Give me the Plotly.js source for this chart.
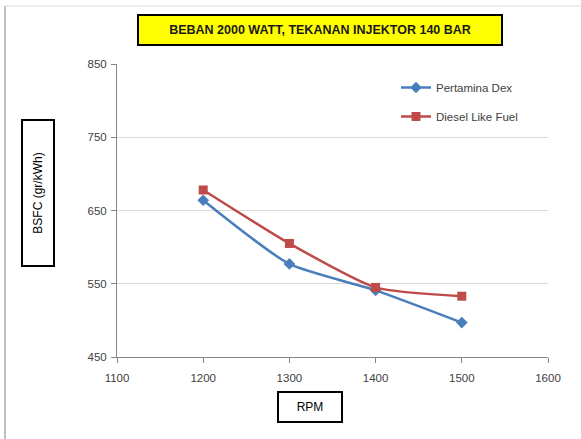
<!DOCTYPE html>
<html>
<head>
<meta charset="utf-8">
<script src="https://cdn.plot.ly/plotly-3.0.1.min.js"></script>
<style>html,body{margin:0;padding:0;background:#fff;}#chart{width:581px;height:439px;}</style>
</head>
<body>
<div id="chart"></div>
<script>
var rpm = [1200, 1300, 1400, 1500];
var pertaminaDex = [664, 577, 541, 497];
var dieselLikeFuel = [678, 605, 545, 533];
var seriesNames = ["Pertamina Dex", "Diesel Like Fuel"];
var xTicks = [1100, 1200, 1300, 1400, 1500, 1600];
var yTicks = [450, 550, 650, 750, 850];

var W = 581, H = 439, L = 117, R = 33, T = 64, B = 82;
var pw = W - L - R, ph = H - T - B;
function px(x){ return (x - L) / pw; }
function py(y){ return (H - B - y) / ph; }

var font = "Liberation Sans, Arial, sans-serif";

var traces = [
  {x: rpm, y: pertaminaDex, name: seriesNames[0], type: "scatter", mode: "lines+markers",
   line: {color: "#4a7ebb", width: 2.5, shape: "spline", smoothing: 0.6},
   marker: {symbol: "diamond", size: 9, color: "#4a7ebb"}, legendgroup: "a"},
  {x: rpm, y: dieselLikeFuel, name: seriesNames[1], type: "scatter", mode: "lines+markers",
   line: {color: "#be4b48", width: 2.5, shape: "spline", smoothing: 0.6},
   marker: {symbol: "square", size: 9, color: "#be4b48"}, legendgroup: "b"}
];

var layout = {
  width: W, height: H,
  margin: {l: L, r: R, t: T, b: B},
  paper_bgcolor: "#ffffff", plot_bgcolor: "#ffffff",
  font: {family: font, size: 11, color: "#404040"},
  showlegend: true,
  legend: {x: px(396), y: py(73), xanchor: "left", yanchor: "top",
           font: {family: font, size: 11.5, color: "#404040"},
           bgcolor: "rgba(0,0,0,0)", tracegroupgap: 10, traceorder: "grouped",
           itemwidth: 30},
  xaxis: {range: [1100, 1600], tickvals: xTicks, ticktext: xTicks.map(String),
          showgrid: false, zeroline: false, showline: true, linecolor: "#868686", linewidth: 1,
          ticks: "outside", ticklen: 5, tickcolor: "#868686", ticklabelstandoff: 5,
          tickfont: {family: font, size: 11.5, color: "#404040"}, fixedrange: true},
  yaxis: {range: [450, 850], tickvals: yTicks, ticktext: yTicks.map(String),
          showgrid: true, gridcolor: "#d9d9d9", gridwidth: 1, zeroline: false,
          showline: true, linecolor: "#868686", linewidth: 1,
          ticks: "outside", ticklen: 5, tickcolor: "#868686", ticklabelstandoff: 2,
          tickfont: {family: font, size: 11.5, color: "#404040"}, fixedrange: true},
  shapes: [
    {type: "line", xref: "paper", yref: "paper", x0: px(5), x1: px(5), y0: py(6), y1: py(439), line: {color: "#bfbfbf", width: 2}},
    {type: "line", xref: "paper", yref: "paper", x0: px(5), x1: px(581), y0: py(6), y1: py(6), line: {color: "#d9d9d9", width: 1}}
  ],
  annotations: [
    {text: "<b>BEBAN 2000 WATT, TEKANAN INJEKTOR 140 BAR</b>", xref: "paper", yref: "paper",
     x: px(320), y: py(30), xanchor: "center", yanchor: "middle", showarrow: false,
     font: {family: font, size: 12.5, color: "#1a1a1a"}, bgcolor: "#ffff00",
     bordercolor: "#000000", borderwidth: 2, width: 358, height: 24, borderpad: 2},
    {text: "BSFC (gr/kWh)", xref: "paper", yref: "paper",
     x: px(38), y: py(193), xanchor: "center", yanchor: "middle", showarrow: false, textangle: -90,
     font: {family: font, size: 12, color: "#000000"}, bgcolor: "#ffffff",
     bordercolor: "#000000", borderwidth: 2, width: 140, height: 26, borderpad: 2},
    {text: "RPM", xref: "paper", yref: "paper",
     x: px(310), y: py(407), xanchor: "center", yanchor: "middle", showarrow: false,
     font: {family: font, size: 12, color: "#000000"}, bgcolor: "#ffffff",
     bordercolor: "#000000", borderwidth: 2, width: 58, height: 24, borderpad: 2}
  ]
};

Plotly.newPlot("chart", traces, layout, {displayModeBar: false, staticPlot: true});
</script>
</body>
</html>
